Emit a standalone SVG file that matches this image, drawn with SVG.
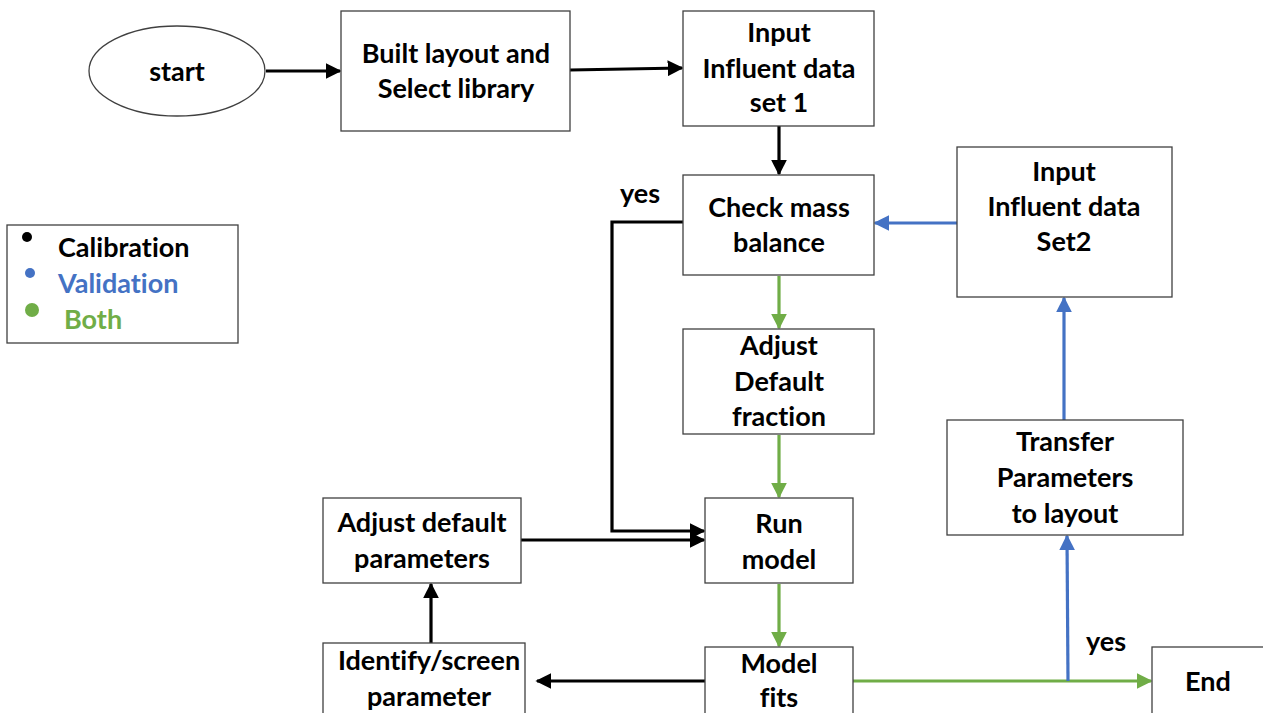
<svg xmlns="http://www.w3.org/2000/svg" width="1263" height="713" viewBox="0 0 1263 713">
<style>
.box{fill:#fff;stroke:#404040;stroke-width:1.3}
.t{font-family:Lato,"Open Sans","Liberation Sans",sans-serif;font-weight:bold;font-size:27px;text-anchor:middle;fill:#000;font-variant-ligatures:none}
.k{stroke:#000;stroke-width:3.2;fill:none}
.b{stroke:#4472C4;stroke-width:3.2;fill:none}
.g{stroke:#70AD47;stroke-width:3.2;fill:none}
</style>
<defs>
<marker id="ak" markerWidth="5" markerHeight="5" refX="4.5" refY="2.5" orient="auto" markerUnits="strokeWidth"><path d="M0,0 L5,2.5 L0,5 z" fill="#000"/></marker>
<marker id="ab" markerWidth="5" markerHeight="5" refX="4.5" refY="2.5" orient="auto" markerUnits="strokeWidth"><path d="M0,0 L5,2.5 L0,5 z" fill="#4472C4"/></marker>
<marker id="ag" markerWidth="5" markerHeight="5" refX="4.5" refY="2.5" orient="auto" markerUnits="strokeWidth"><path d="M0,0 L5,2.5 L0,5 z" fill="#70AD47"/></marker>
</defs>
<rect width="1263" height="713" fill="#fff"/>

<g id="connectors">
<line class="k" x1="266" y1="71" x2="340" y2="71" marker-end="url(#ak)"/>
<line class="k" x1="570" y1="70" x2="682" y2="68" marker-end="url(#ak)"/>
<line class="k" x1="779" y1="126" x2="779" y2="174" marker-end="url(#ak)"/>
<line class="b" x1="957" y1="223" x2="875" y2="223" marker-end="url(#ab)"/>
<line class="g" x1="779" y1="276" x2="779" y2="328" marker-end="url(#ag)"/>
<line class="g" x1="779" y1="435" x2="779" y2="497" marker-end="url(#ag)"/>
<line class="g" x1="779" y1="584" x2="779" y2="646" marker-end="url(#ag)"/>
<polyline class="k" points="684,222 612,222 612,531 704,531" marker-end="url(#ak)"/>
<line class="k" x1="521" y1="540" x2="704" y2="540" marker-end="url(#ak)"/>
<line class="k" x1="431" y1="643" x2="431" y2="584" marker-end="url(#ak)"/>
<line class="k" x1="705" y1="681" x2="537" y2="681" marker-end="url(#ak)"/>
<line class="g" x1="853" y1="681" x2="1151" y2="681" marker-end="url(#ag)"/>
<line class="b" x1="1068" y1="681" x2="1067" y2="536" marker-end="url(#ab)"/>
<line class="b" x1="1064" y1="420" x2="1064" y2="298" marker-end="url(#ab)"/>
<text class="t" x="640" y="203">yes</text>
<text class="t" x="1106" y="651">yes</text>
</g>

<g id="start">
<ellipse cx="177" cy="71" rx="88" ry="45" fill="#fff" stroke="#404040" stroke-width="1.3"/>
<text class="t" x="177" y="81">start</text>
</g>
<g id="built">
<rect class="box" x="341" y="11" width="229" height="120"/>
<text class="t" x="456" y="63">Built layout and</text>
<text class="t" x="456" y="98">Select library</text>
</g>
<g id="input1">
<rect class="box" x="683" y="11" width="191" height="115"/>
<text class="t" x="779" y="42">Input</text>
<text class="t" x="779" y="78">Influent data</text>
<text class="t" x="779" y="112">set 1</text>
</g>
<g id="check">
<rect class="box" x="683" y="175" width="191" height="100"/>
<text class="t" x="779" y="217">Check mass</text>
<text class="t" x="779" y="252">balance</text>
</g>
<g id="input2">
<rect class="box" x="957" y="147" width="215" height="150"/>
<text class="t" x="1064" y="181">Input</text>
<text class="t" x="1064" y="216">Influent data</text>
<text class="t" x="1064" y="251">Set2</text>
</g>
<g id="fraction">
<rect class="box" x="683" y="329" width="191" height="105"/>
<text class="t" x="779" y="355">Adjust</text>
<text class="t" x="779" y="391">Default</text>
<text class="t" x="779" y="426">fraction</text>
</g>
<g id="transfer">
<rect class="box" x="947" y="420" width="236" height="115"/>
<text class="t" x="1065" y="451">Transfer</text>
<text class="t" x="1065" y="487">Parameters</text>
<text class="t" x="1065" y="523">to layout</text>
</g>
<g id="run">
<rect class="box" x="705" y="498" width="148" height="85"/>
<text class="t" x="779" y="533">Run</text>
<text class="t" x="779" y="569">model</text>
</g>
<g id="adjustparams">
<rect class="box" x="323" y="498" width="198" height="85"/>
<text class="t" x="422" y="532">Adjust default</text>
<text class="t" x="422" y="568">parameters</text>
</g>
<g id="identify">
<rect class="box" x="323" y="643" width="202" height="80"/>
<text class="t" x="429" y="670">Identify/screen</text>
<text class="t" x="429" y="706">parameter</text>
</g>
<g id="fits">
<rect class="box" x="705" y="647" width="148" height="80"/>
<text class="t" x="779" y="673">Model</text>
<text class="t" x="779" y="707">fits</text>
</g>
<g id="end">
<rect class="box" x="1152" y="647" width="120" height="80"/>
<text class="t" x="1208" y="691">End</text>
</g>
<g id="legend">
<rect class="box" x="7" y="225" width="231" height="118"/>
<circle cx="27" cy="237" r="5" fill="#000"/>
<circle cx="30" cy="273" r="5" fill="#4472C4"/>
<circle cx="32" cy="310" r="7" fill="#70AD47"/>
<text class="t" x="58" y="257" style="text-anchor:start">Calibration</text>
<text class="t" x="58" y="293" style="text-anchor:start;fill:#4472C4">Validation</text>
<text class="t" x="64" y="329" style="text-anchor:start;fill:#70AD47">Both</text>
</g>
</svg>
